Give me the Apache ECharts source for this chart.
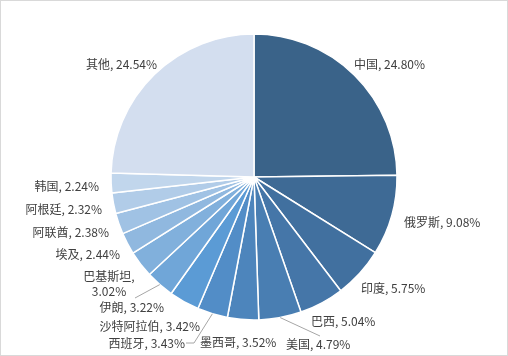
<!DOCTYPE html>
<html><head><meta charset="utf-8">
<script src="https://cdn.jsdelivr.net/npm/echarts@6/dist/echarts.min.js"></script>
<style>
html,body{margin:0;padding:0;background:#fff;}
#wrap{width:508px;height:356px;box-sizing:border-box;border:1px solid #d9d9d9;}
#c{width:506px;height:354px;}
</style></head>
<body><div id="wrap"><div id="c"></div></div>
<script>
const categories = ['中国','俄罗斯','印度','巴西','美国','墨西哥','西班牙','沙特阿拉伯','伊朗','巴基斯坦','埃及','阿联酋','阿根廷','韩国','其他'];
const shares = [24.80, 9.08, 5.75, 5.04, 4.79, 3.52, 3.43, 3.42, 3.22, 3.02, 2.44, 2.38, 2.32, 2.24, 24.54];

const colors = ['#3a6389','#3e6a95','#41709f','#4576a8','#497eb2','#4d85bc','#528dc7','#5b9bd5','#70a6d8','#81b0dc','#90b8df','#a0c2e4','#b1cce8','#c1d6ec','#d3deef'];
// label anchor positions (layout only) [x, y, align]
const labelPos = [
  [353, 63, 'left'], [403, 221, 'left'], [360, 287, 'left'], [310, 320, 'left'],
  [285, 343, 'left'], [199, 341, 'left'], [184, 342, 'right'], [199, 325, 'right'],
  [163, 306, 'right'], [108, 283, 'center'], [119, 253, 'right'], [108, 231, 'right'],
  [101, 208, 'right'], [98, 185, 'right'], [156, 63, 'right']
];
// leader line end points (layout only), starting from slice edge
const leaderEnds = {
  '美国': [[319, 335]],
  '西班牙': [[193, 342], [185, 342]],
  '伊朗': [[134, 297]]
};
const wrapName = ['巴基斯坦'];

const chart = echarts.init(document.getElementById('c'), null, {renderer:'canvas'});
chart.setOption({
  animation:false,
  series:[{
    type:'pie',
    center:[253,176],
    radius:143,
    startAngle:90,
    clockwise:true,
    itemStyle:{borderColor:'#fff',borderWidth:1.5},
    label:{
      show:true, position:'outside', overflow:'none', width:null,
      fontFamily:'"Noto Sans CJK SC", sans-serif', fontSize:12, color:'#404040',
      lineHeight:15,
      formatter:p => p.name + ',' + (wrapName.includes(p.name) ? '\n' : ' ') + p.value.toFixed(2) + '%'
    },
    labelLine:{show:false},
    labelLayout: function(params){
      const lp = labelPos[params.dataIndex];
      return {x: lp[0], y: lp[1], align: lp[2], verticalAlign:'middle'};
    },
    data: categories.map((n,i)=>({
      name:n, value:shares[i],
      itemStyle:{color:colors[i]}
    }))
  }]
});

// leader lines from the library's own slice layout
const data = chart.getModel().getSeriesByIndex(0).getData();
const graphics = [];
categories.forEach((n, i) => {
  if (!leaderEnds[n]) return;
  const l = data.getItemLayout(i);
  const mid = (l.startAngle + l.endAngle) / 2;
  const start = [l.cx + l.r * Math.cos(mid), l.cy + l.r * Math.sin(mid)];
  graphics.push({
    type:'polyline', z:10,
    shape:{points:[start].concat(leaderEnds[n])},
    style:{stroke:'#a6a6a6', fill:null, lineWidth:1}
  });
});
chart.setOption({graphic: graphics});
</script></body></html>
